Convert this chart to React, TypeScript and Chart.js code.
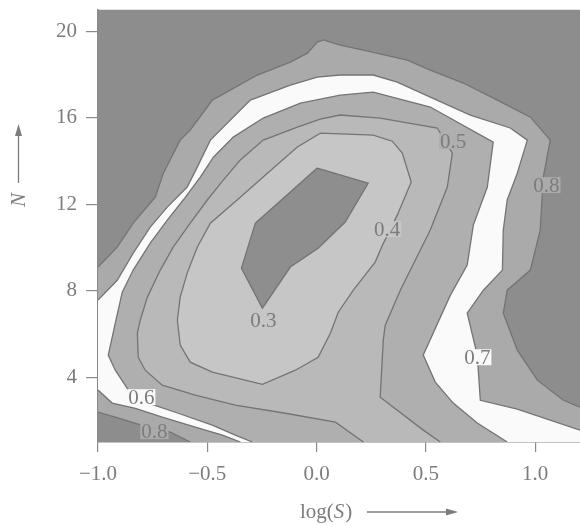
import React, { useEffect, useRef } from 'react';
import { Chart, registerables } from 'chart.js';

Chart.register(...registerables);

// ---------- axes ----------
const xTickValues = [-1.0, -0.5, 0.0, 0.5, 1.0];
const yTickValues = [4, 8, 12, 16, 20];
const xRange = [-1.0, 1.205];
const yRange = [1, 21];

// ---------- contour lines (log(S), N) ----------
// 0.8 contour, main branch: left edge -> over the top -> right edge
const c08Main = [
  [-1.0, 9.09], [-0.912, 10.01], [-0.839, 11.12], [-0.738, 12.32], [-0.701, 13.43],
  [-0.624, 14.96], [-0.578, 15.42], [-0.477, 16.81], [-0.271, 17.97], [-0.12, 18.57],
  [-0.042, 18.98], [0.003, 19.49], [0.031, 19.59], [0.108, 19.35], [0.214, 19.12],
  [0.415, 18.66], [0.52, 18.2], [0.671, 17.6], [0.827, 16.81], [0.978, 16.02],
  [1.069, 14.96], [1.037, 13.25], [1.023, 10.8], [0.978, 8.95], [0.872, 8.02],
  [0.854, 6.96], [0.918, 5.25], [1.01, 3.86], [1.129, 2.93], [1.205, 2.61],
];
// 0.8 contour, bottom-left corner branch
const c08Corner = [
  [-1.0, 2.38], [-0.921, 2.15], [-0.816, 1.83], [-0.669, 1.46], [-0.578, 1.0],
];
// 0.7 contour, main branch
const c07Main = [
  [-1.0, 7.56], [-0.912, 8.48], [-0.839, 9.73], [-0.761, 10.94], [-0.683, 11.86],
  [-0.592, 12.79], [-0.546, 13.71], [-0.486, 14.96], [-0.303, 16.81], [-0.12, 17.5],
  [0.003, 17.87], [0.108, 17.97], [0.259, 17.97], [0.369, 17.64], [0.52, 16.95],
  [0.703, 16.12], [0.886, 15.52], [0.964, 14.96], [0.918, 13.43], [0.872, 12.19],
  [0.854, 10.8], [0.85, 8.95], [0.763, 8.02], [0.689, 6.96], [0.735, 5.02],
  [0.749, 2.93], [0.918, 2.52], [1.205, 1.55],
];
// 0.7 contour, lower-left branch
const c07Lower = [
  [-1.0, 3.4], [-0.935, 2.8], [-0.829, 2.56], [-0.706, 2.15], [-0.555, 1.69],
  [-0.431, 1.32], [-0.349, 1.0],
];
// 0.6 contour
const c06 = [
  [-0.294, 1.0], [-0.372, 1.32], [-0.477, 1.78], [-0.633, 2.33], [-0.77, 2.8],
  [-0.861, 3.4], [-0.921, 4.32], [-0.953, 5.02], [-0.921, 6.5], [-0.889, 7.93],
  [-0.839, 8.95], [-0.761, 10.2], [-0.683, 11.26], [-0.61, 12.19], [-0.532, 13.25],
  [-0.472, 14.17], [-0.381, 15.1], [-0.244, 15.98], [-0.074, 16.67], [0.108, 17.04],
  [0.259, 17.18], [0.52, 16.49], [0.808, 14.87], [0.781, 12.79], [0.717, 11.03],
  [0.689, 9.18], [0.612, 7.79], [0.488, 5.02], [0.543, 3.77], [0.625, 2.8],
  [0.735, 1.88], [0.872, 1.0],
];
// 0.5 contour
const c05 = [
  [0.214, 1.0], [0.086, 1.92], [-0.143, 2.33], [-0.372, 2.7], [-0.555, 3.17],
  [-0.706, 3.63], [-0.784, 4.32], [-0.816, 4.92], [-0.82, 6.03], [-0.807, 6.63],
  [-0.774, 7.7], [-0.715, 8.95], [-0.656, 10.01], [-0.578, 11.12], [-0.5, 12.19],
  [-0.427, 13.11], [-0.349, 14.04], [-0.244, 14.96], [-0.088, 15.56], [0.017, 15.93],
  [0.108, 16.12], [0.291, 15.98], [0.552, 15.52], [0.621, 14.36], [0.598, 12.79],
  [0.52, 10.8], [0.383, 8.02], [0.314, 6.4], [0.305, 5.71], [0.291, 3.07],
  [0.488, 1.55], [0.566, 1.0],
];
// 0.4 contour (closed)
const c04 = [
  [0.017, 15.28], [0.259, 15.19], [0.346, 14.91], [0.392, 14.36], [0.433, 13.02],
  [0.369, 11.49], [0.301, 10.1], [0.268, 9.32], [0.168, 8.02], [0.099, 7.0],
  [0.063, 6.03], [0.007, 4.92], [-0.097, 4.32], [-0.248, 3.67], [-0.477, 4.23],
  [-0.578, 4.69], [-0.624, 5.48], [-0.637, 6.63], [-0.624, 7.7], [-0.592, 8.81],
  [-0.546, 10.01], [-0.486, 11.12], [-0.349, 12.32], [-0.225, 13.43], [-0.088, 14.64],
];
// 0.3 contour (closed)
const c03 = [
  [0.003, 13.67], [0.236, 12.97], [0.131, 11.17], [0.007, 9.96], [-0.12, 9.09],
  [-0.248, 7.19], [-0.344, 9.04], [-0.28, 11.12],
];

// ---------- contour labels ----------
const labelTexts = ['0.3', '0.4', '0.5', '0.6', '0.7', '0.8', '0.8'];
const labelX = [-0.243, 0.323, 0.625, -0.802, 0.735, 1.051, -0.742];
const labelY = [6.63, 10.84, 14.91, 3.07, 4.92, 12.88, 1.5];

// ---------- styles ----------
const C_ABOVE08 = '#8d8d8d';
const C_78 = '#aaaaaa';
const C_67 = '#fafafa';
const C_56 = '#afafaf';
const C_45 = '#b9b9b9';
const C_34 = '#c6c6c6';
const C_BELOW03 = '#8e8e8e';
const C_LINE = '#747474';
const C_TEXT = '#7c7c7c';
const labelBg = [C_34, C_34, C_56, C_67, C_67, C_78, C_78];
const FONT = '"Liberation Serif", "Times New Roman", serif';

const toPts = (arr: number[][]) => arr.map(([x, y]) => ({ x, y }));

function buildConfig(): any {
  const [xMin, xMax] = xRange;
  const [yMin, yMax] = yRange;
  const bgPoly = [[xMin, yMin], [xMin, yMax], [xMax, yMax], [xMax, yMin]];
  const r08 = [...c08Main, [xMax, yMin], ...[...c08Corner].reverse()];
  const r07 = [...c07Main, [xMax, yMin], ...[...c07Lower].reverse()];

  const fillDs = (data: number[][], color: string, order: number) => ({
    data: toPts(data),
    fill: 'shape',
    backgroundColor: color,
    borderColor: 'rgba(0,0,0,0)',
    borderWidth: 0,
    pointRadius: 0,
    tension: 0,
    order,
  });
  const lineDs = (data: number[][]) => ({
    data: toPts(data),
    fill: false,
    borderColor: C_LINE,
    borderWidth: 1.3,
    pointRadius: 0,
    tension: 0,
    order: 0,
  });

  const datasets = [
    fillDs(bgPoly, C_ABOVE08, 20),
    fillDs(r08, C_78, 19),
    fillDs(r07, C_67, 18),
    fillDs(c06, C_56, 17),
    fillDs(c05, C_45, 16),
    fillDs(c04, C_34, 15),
    fillDs(c03, C_BELOW03, 14),
    lineDs(c08Main),
    lineDs(c08Corner),
    lineDs(c07Main),
    lineDs(c07Lower),
    lineDs(c06),
    lineDs(c05),
    lineDs([...c04, c04[0]]),
    lineDs([...c03, c03[0]]),
  ];

  const textPlugin = {
    id: 'contourText',
    afterDatasetsDraw(chart: any) {
      const { ctx, scales } = chart;
      ctx.save();
      ctx.font = `21px ${FONT}`;
      ctx.textAlign = 'center';
      ctx.textBaseline = 'alphabetic';
      labelTexts.forEach((t, i) => {
        const px = scales.x.getPixelForValue(labelX[i]);
        const py = scales.y.getPixelForValue(labelY[i]);
        const w = ctx.measureText(t).width;
        ctx.fillStyle = labelBg[i];
        ctx.fillRect(px - w / 2 - 1, py - 8, w + 2, 16);
        ctx.fillStyle = C_TEXT;
        ctx.fillText(t, px, py + 7);
      });
      ctx.restore();
    },
    afterDraw(chart: any) {
      const { ctx } = chart;
      ctx.save();
      ctx.fillStyle = C_TEXT;
      ctx.strokeStyle = C_TEXT;
      ctx.textBaseline = 'alphabetic';
      ctx.textAlign = 'left';
      // x title: log(S) ---->
      let tx = 300;
      const ty = 518;
      ctx.font = `21px ${FONT}`;
      ctx.fillText('log(', tx, ty);
      tx += ctx.measureText('log(').width;
      ctx.font = `italic 21px ${FONT}`;
      ctx.fillText('S', tx, ty);
      tx += ctx.measureText('S').width + 1;
      ctx.font = `21px ${FONT}`;
      ctx.fillText(')', tx, ty);
      ctx.lineWidth = 1.3;
      ctx.beginPath();
      ctx.moveTo(367, 512);
      ctx.lineTo(449, 512);
      ctx.stroke();
      ctx.beginPath();
      ctx.moveTo(458, 512);
      ctx.lineTo(446, 508.5);
      ctx.lineTo(446, 515.5);
      ctx.closePath();
      ctx.fill();
      // y title: N ---->  (rotated)
      ctx.save();
      ctx.translate(25, 207);
      ctx.rotate(-Math.PI / 2);
      ctx.font = `italic 21px ${FONT}`;
      ctx.fillText('N', 0, 0);
      ctx.restore();
      ctx.beginPath();
      ctx.moveTo(18.5, 183);
      ctx.lineTo(18.5, 134);
      ctx.stroke();
      ctx.beginPath();
      ctx.moveTo(18.5, 124);
      ctx.lineTo(15, 136);
      ctx.lineTo(22, 136);
      ctx.closePath();
      ctx.fill();
      ctx.restore();
    },
  };

  const fmtX = (v: number) =>
    v === 0 ? '0.0' : (v < 0 ? '\u2212' : '') + Math.abs(v).toFixed(1);

  return {
    type: 'line',
    data: { datasets },
    plugins: [textPlugin],
    options: {
      responsive: false,
      animation: false,
      devicePixelRatio: 1,
      layout: { padding: { top: 9.5, right: 0, left: 0, bottom: 0 } },
      plugins: {
        legend: { display: false },
        tooltip: { enabled: false },
        title: { display: false },
      },
      elements: { point: { radius: 0 }, line: { tension: 0 } },
      scales: {
        x: {
          type: 'linear',
          min: xRange[0],
          max: xRange[1],
          afterBuildTicks: (s: any) => {
            s.ticks = xTickValues.map((v) => ({ value: v }));
          },
          afterFit: (s: any) => {
            s.height = 83;
            s.paddingLeft = 0;
            s.paddingRight = 0;
          },
          ticks: {
            callback: (v: number) => fmtX(v),
            font: { family: FONT, size: 21 },
            color: C_TEXT,
            padding: 10,
            maxRotation: 0,
            autoSkip: false,
          },
          grid: {
            drawOnChartArea: false,
            drawTicks: true,
            tickLength: 10,
            color: '#8a8a8a',
            lineWidth: 1.2,
          },
          border: { display: true, color: '#8a8a8a', width: 1.5 },
        },
        y: {
          type: 'linear',
          min: yRange[0],
          max: yRange[1],
          afterBuildTicks: (s: any) => {
            s.ticks = yTickValues.map((v) => ({ value: v }));
          },
          afterFit: (s: any) => {
            s.width = 98;
            s.paddingTop = 0;
            s.paddingBottom = 0;
          },
          ticks: {
            callback: (v: number) => String(v),
            font: { family: FONT, size: 21 },
            color: C_TEXT,
            padding: 9,
            autoSkip: false,
          },
          grid: {
            drawOnChartArea: false,
            drawTicks: true,
            tickLength: 12,
            color: '#8a8a8a',
            lineWidth: 1.2,
          },
          border: { display: true, color: '#8a8a8a', width: 1.5 },
        },
      },
    },
  };
}

export default function App() {
  const ref = useRef<HTMLCanvasElement>(null);
  useEffect(() => {
    if (!ref.current) return;
    const chart = new Chart(ref.current, buildConfig());
    return () => chart.destroy();
  }, []);
  return (
    <div
      style={{
        position: 'absolute',
        left: 0,
        top: 0,
        width: 580,
        height: 525,
        background: '#ffffff',
      }}
    >
      <canvas ref={ref} width={580} height={525} style={{ display: 'block' }} />
    </div>
  );
}
